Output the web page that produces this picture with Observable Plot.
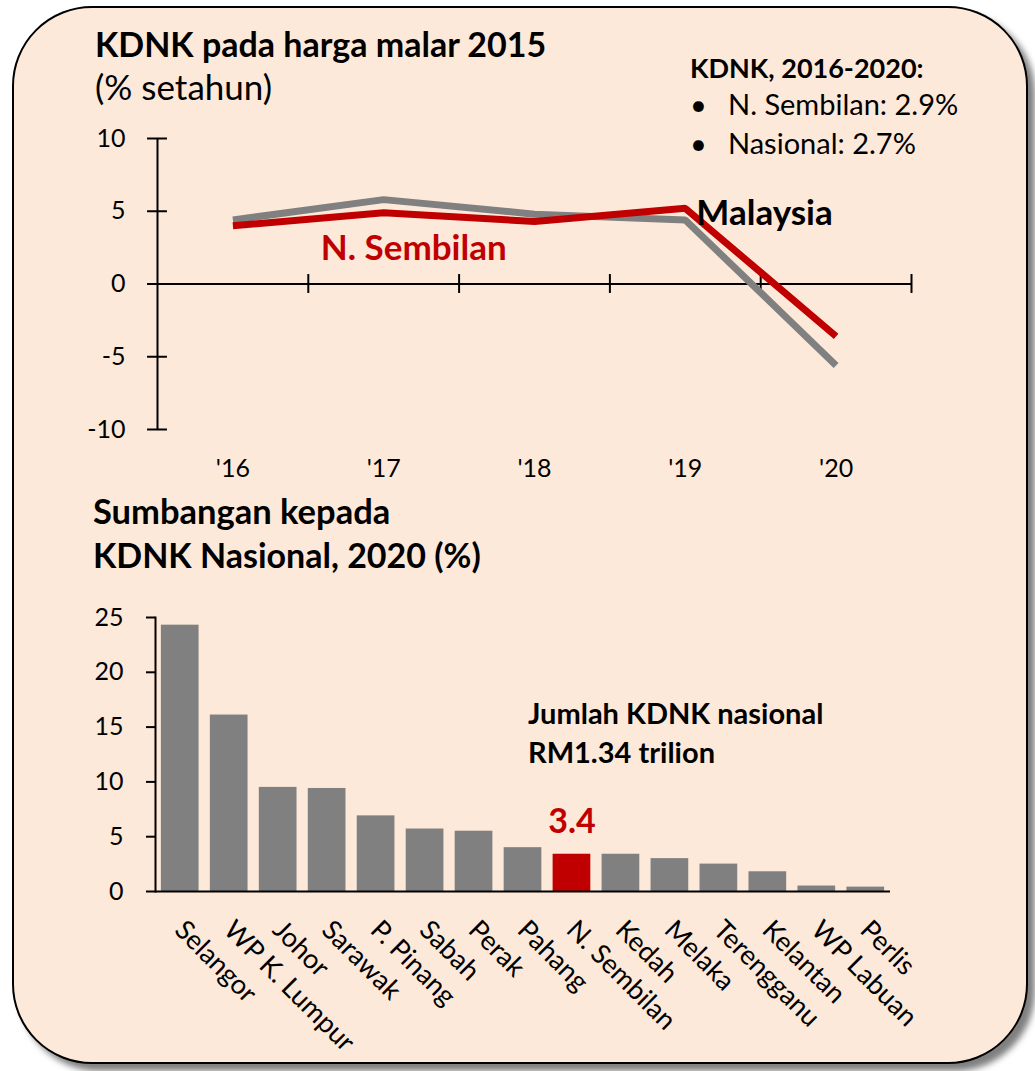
<!DOCTYPE html>
<html><head><meta charset="utf-8">
<script src="https://cdn.jsdelivr.net/npm/d3@7"></script>
<script src="https://cdn.jsdelivr.net/npm/@observablehq/plot@0.6"></script>
<style>
body{margin:0;background:#fff;font-family:Lato,sans-serif;}
#wrap{position:relative;width:1035px;height:1071px;overflow:hidden;}
#card{position:absolute;left:12px;top:6px;width:1012px;height:1054px;border:2px solid #000;border-radius:80px;background:#FDE9D9;box-shadow:7px 7px 6px rgba(0,0,0,0.5);}
.t{position:absolute;line-height:1;white-space:nowrap;color:#000;}
.b{font-weight:700;}
.plot{position:absolute;left:0;}
</style></head><body>
<div id="wrap">
  <div id="card"></div>
  <div class="t b" style="left:95px;top:27px;font-size:34px;">KDNK pada harga malar 2015</div>
  <div class="t" style="left:95px;top:69px;font-size:35px;">(% setahun)</div>
  <div class="t b" style="left:690px;top:54px;font-size:27px;">KDNK, 2016-2020:</div>
  <div class="t" style="left:690px;top:89px;font-size:29px;">•</div>
  <div class="t" style="left:728px;top:89px;font-size:29px;">N. Sembilan: 2.9%</div>
  <div class="t" style="left:690px;top:128px;font-size:29px;">•</div>
  <div class="t" style="left:728px;top:128px;font-size:29px;">Nasional: 2.7%</div>
  <div class="t b" style="left:93px;top:494px;font-size:34.5px;">Sumbangan kepada</div>
  <div class="t b" style="left:93px;top:538px;font-size:34px;">KDNK Nasional, 2020 (%)</div>
  <div class="t b" style="left:528px;top:698px;font-size:29px;">Jumlah KDNK nasional</div>
  <div class="t b" style="left:528px;top:737px;font-size:29px;">RM1.34 trilion</div>
  <div id="topChart" class="plot" style="top:120px;"></div>
  <div id="botChart" class="plot" style="top:600px;"></div>
</div>
<script>
// ---- Data: GDP growth (% per year)
const years = [2016, 2017, 2018, 2019, 2020];
const malaysia = [4.4, 5.8, 4.8, 4.4, -5.6];
const nSembilan = [4.0, 4.9, 4.3, 5.2, -3.6];
const growthTicks = [-10, -5, 0, 5, 10];

// ---- Data: contribution to national GDP 2020 (%)
const states = ["Selangor", "WP K. Lumpur", "Johor", "Sarawak", "P. Pinang", "Sabah", "Perak", "Pahang", "N. Sembilan", "Kedah", "Melaka", "Terengganu", "Kelantan", "WP Labuan", "Perlis"];
const shares = [24.3, 16.1, 9.5, 9.4, 6.9, 5.7, 5.5, 4.0, 3.4, 3.4, 3.0, 2.5, 1.8, 0.5, 0.4];
const shareTicks = [0, 5, 10, 15, 20, 25];
const highlight = "N. Sembilan";

const GRAY = "#808080", RED = "#C00000";
const plotStyle = {background: "transparent", fontFamily: "Lato, sans-serif", color: "#000", overflow: "visible"};

const mys = years.map((y, i) => ({year: y, value: malaysia[i]}));
const nsb = years.map((y, i) => ({year: y, value: nSembilan[i]}));
const xMin = years[0] - 0.5, xMax = years[years.length - 1] + 0.5;
const bounds = years.map(y => y + 0.5);

const lineChart = Plot.plot({
  width: 1035, height: 370,
  marginLeft: 157, marginRight: 124, marginTop: 18, marginBottom: 61,
  style: plotStyle,
  x: {domain: [xMin, xMax], label: null},
  y: {domain: [-10, 10], label: null},
  marks: [
    Plot.axisY({ticks: growthTicks, tickFormat: d => String(d), tickSize: 0, tickPadding: 32, fontSize: 25, label: null}),
    Plot.axisX({ticks: years, tickFormat: d => "'" + String(d).slice(2), tickSize: 0, tickPadding: 30, fontSize: 25, label: null}),
    Plot.ruleX([xMin], {y1: -10, y2: 10, stroke: "#000", strokeWidth: 2}),
    Plot.ruleY(growthTicks, {y: d => d, x1: xMin - 0.066, x2: xMin + 0.066, stroke: "#000", strokeWidth: 2}),
    Plot.ruleY([0], {x1: xMin, x2: xMax, stroke: "#000", strokeWidth: 2}),
    Plot.ruleX(bounds, {x: d => d, y1: -0.65, y2: 0.65, stroke: "#000", strokeWidth: 2}),
    Plot.line(mys, {x: "year", y: "value", stroke: GRAY, strokeWidth: 7, strokeLinecap: "butt", strokeLinejoin: "miter"}),
    Plot.line(nsb, {x: "year", y: "value", stroke: RED, strokeWidth: 7, strokeLinecap: "butt", strokeLinejoin: "miter"}),
    Plot.text([mys[3]], {x: "year", y: "value", text: () => "Malaysia", textAnchor: "start", dx: 11, dy: -6, fontSize: 35, fontWeight: 700, fill: "#000"}),
    Plot.text([nsb[1]], {x: "year", y: "value", text: () => "N. Sembilan", dx: 30, dy: 36, fontSize: 35, fontWeight: 700, fill: RED})
  ]
});
document.getElementById("topChart").appendChild(lineChart);

const bars = states.map((s, i) => ({state: s, value: shares[i]}));
const barChart = Plot.plot({
  width: 1035, height: 470,
  marginLeft: 155, marginRight: 145, marginTop: 17, marginBottom: 179,
  style: plotStyle,
  x: {domain: states, paddingInner: 0.23, paddingOuter: 0.12, round: false, axis: null, label: null},
  y: {domain: [0, 25], label: null},
  marks: [
    Plot.axisY({ticks: shareTicks, tickSize: 9, tickPadding: 23, fontSize: 25, label: null, strokeWidth: 2}),
    Plot.barY(bars, {x: "state", y: "value", fill: d => d.state === highlight ? RED : GRAY}),
    Plot.frame({anchor: "left", stroke: "#000", strokeWidth: 2}),
    Plot.ruleY([0], {stroke: "#000", strokeWidth: 2}),
    Plot.text(bars.filter(d => d.state === highlight), {x: "state", y: "value", text: d => d.value.toFixed(1), dy: -32, fontSize: 34, fontWeight: 700, fill: RED}),
    Plot.text(bars, {x: "state", text: "state", frameAnchor: "bottom", dy: 40, dx: -7, rotate: 45, textAnchor: "start", fontSize: 27, fill: "#000"})
  ]
});
document.getElementById("botChart").appendChild(barChart);
</script>
</body></html>
